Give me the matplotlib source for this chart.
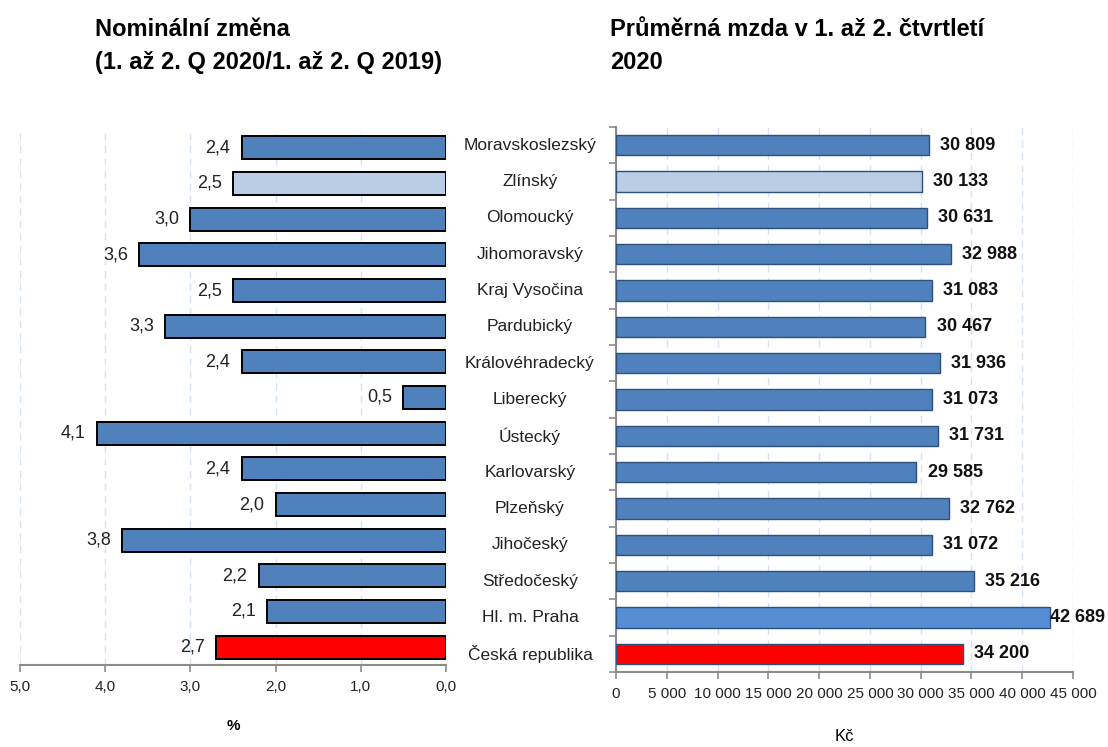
import matplotlib.pyplot as plt
from matplotlib.ticker import FixedLocator

plt.rcParams['font.family'] = ['Liberation Sans', 'DejaVu Sans']

regions = ['Moravskoslezský', 'Zlínský', 'Olomoucký', 'Jihomoravský', 'Kraj Vysočina',
           'Pardubický', 'Královéhradecký', 'Liberecký', 'Ústecký', 'Karlovarský',
           'Plzeňský', 'Jihočeský', 'Středočeský', 'Hl. m. Praha', 'Česká republika']
change_pct = [2.4, 2.5, 3.0, 3.6, 2.5, 3.3, 2.4, 0.5, 4.1, 2.4, 2.0, 3.8, 2.2, 2.1, 2.7]
wage_czk = [30809, 30133, 30631, 32988, 31083, 30467, 31936, 31073, 31731, 29585,
            32762, 31072, 35216, 42689, 34200]
left_ticks = [5.0, 4.0, 3.0, 2.0, 1.0, 0.0]
right_ticks = list(range(0, 45001, 5000))

BLUE = '#4F81BD'
LIGHT = '#B9CDE5'
PRAHA = '#558ED5'
RED = '#FF0000'
GRID = '#D3E1F3'
SPINE = '#8C8C8C'

left_colors = [BLUE] * len(regions)
left_colors[1] = LIGHT
left_colors[-1] = RED
right_colors = list(left_colors)
right_colors[13] = PRAHA

W, H = 1108, 747
fig = plt.figure(figsize=(W / 100, H / 100), dpi=100)


def px_axes(x0, y0, x1, y1):
    return fig.add_axes([x0 / W, 1 - y1 / H, (x1 - x0) / W, (y1 - y0) / H])


ypos = list(range(len(regions)))

# left panel - nominal change
axl = px_axes(20, 130, 446, 665)
axl.barh(ypos, change_pct, height=0.65, color=left_colors, edgecolor='black', linewidth=1.4, zorder=3)
axl.set_xlim(5.0, 0.0)
axl.set_ylim(len(regions) - 0.5, -0.5)
axl.xaxis.set_major_locator(FixedLocator(left_ticks))
axl.set_xticklabels([f'{t:.1f}'.replace('.', ',') for t in left_ticks], fontsize=11)
axl.set_yticks([])
for s in ['top', 'left', 'right']:
    axl.spines[s].set_visible(False)
axl.spines['bottom'].set_color(SPINE)
axl.spines['bottom'].set_linewidth(1.5)
axl.tick_params(axis='x', colors=SPINE, length=5, width=1.2, labelcolor='#222222', pad=6)
axl.grid(axis='x', color=GRID, linestyle=(0, (5, 4)), linewidth=1, zorder=0)
for y, v in zip(ypos, change_pct):
    axl.annotate(f'{v:.1f}'.replace('.', ','), (v, y), xytext=(-8, 0), textcoords='offset points',
                 ha='right', va='center', fontsize=13, color='#222222')
axl.set_xlabel('%', fontsize=11, fontweight='bold', labelpad=18)

# right panel - average wage
axr = px_axes(616, 127, 1073, 672)
axr.barh(ypos, wage_czk, height=0.56, color=right_colors, edgecolor='#2F4F7F', linewidth=1.0, zorder=3)
axr.set_xlim(0, 45000)
axr.set_ylim(len(regions) - 0.5, -0.5)
axr.xaxis.set_major_locator(FixedLocator(right_ticks))
axr.set_xticklabels([f'{t:,}'.replace(',', ' ') for t in right_ticks], fontsize=11)
axr.yaxis.set_major_locator(FixedLocator([i - 0.5 for i in range(len(regions) + 1)]))
axr.set_yticklabels([])
for s in ['top', 'right']:
    axr.spines[s].set_visible(False)
for s in ['bottom', 'left']:
    axr.spines[s].set_color(SPINE)
    axr.spines[s].set_linewidth(1.5)
axr.tick_params(axis='both', colors=SPINE, length=5, width=1.2, labelcolor='#222222')
axr.tick_params(axis='x', pad=6)
axr.grid(axis='x', color=GRID, linestyle=(0, (5, 4)), linewidth=1, zorder=0)
for y, v in zip(ypos, wage_czk):
    xt = min(v + 1100, 42700)
    axr.text(xt, y, f'{v:,}'.replace(',', ' '), ha='left', va='center', fontsize=13,
             fontweight='bold', color='#111111', zorder=4)
axr.set_xlabel('Kč', fontsize=12, labelpad=20)

# category labels between the panels
for y, name in zip(ypos, regions):
    axr.annotate(name, xy=(0, y), xycoords=('axes fraction', 'data'), xytext=(-86, 0),
                 textcoords='offset pixels', ha='center', va='center', fontsize=12.5, color='#222222')

fig.text(95 / W, 1 - 18 / H, 'Nominální změna\n(1. až 2. Q 2020/1. až 2. Q 2019)',
         fontsize=17, fontweight='bold', ha='left', va='top', linespacing=1.55)
fig.text(610 / W, 1 - 18 / H, 'Průměrná mzda v 1. až 2. čtvrtletí\n2020',
         fontsize=17, fontweight='bold', ha='left', va='top', linespacing=1.55)

fig.savefig('out.png', dpi=100)
